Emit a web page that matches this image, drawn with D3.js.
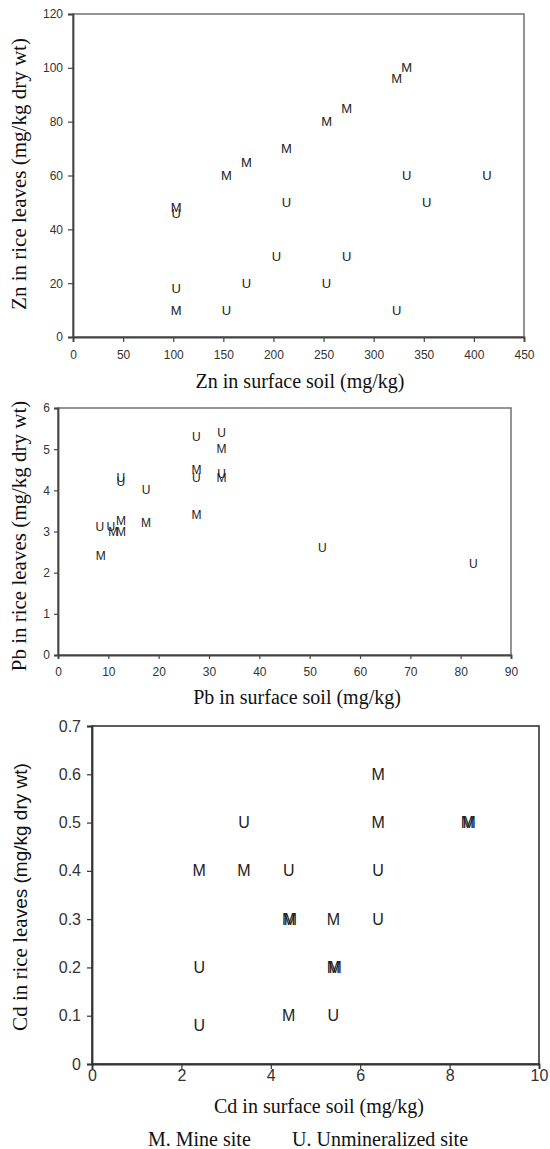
<!DOCTYPE html>
<html>
<head>
<meta charset="utf-8">
<script src="https://cdn.jsdelivr.net/npm/d3@7/dist/d3.min.js"></script>
<style>
  body { margin: 0; background: #fff; }
  .tick text { fill: #333; font-family: "Liberation Sans", Arial, sans-serif; }
  .mark { font-family: "Liberation Sans", Arial, sans-serif; fill: #222; }
  .title { font-family: "Liberation Serif", "Times New Roman", serif; fill: #111; }
</style>
</head>
<body>
<script>
// Zn panel: soil vs leaves
var znMineSoil = [103, 103, 153, 173, 213, 253, 273, 323, 333];
var znMineLeaf = [10, 48, 60, 65, 70, 80, 85, 96, 100];
var znUnminSoil = [103, 103, 153, 173, 203, 213, 253, 273, 323, 333, 353, 413];
var znUnminLeaf = [18, 46, 10, 20, 30, 50, 20, 30, 10, 60, 50, 60];
var znXTicks = [0, 50, 100, 150, 200, 250, 300, 350, 400, 450];
var znYTicks = [0, 20, 40, 60, 80, 100, 120];

// Pb panel
var pbMineSoil = [8.5, 11, 12.5, 12.5, 17.5, 27.5, 27.5, 32.5, 32.5];
var pbMineLeaf = [2.4, 3.0, 3.0, 3.25, 3.2, 3.4, 4.5, 4.3, 5.0];
var pbUnminSoil = [8.3, 10.5, 12.5, 12.5, 17.5, 27.5, 27.5, 32.5, 32.5, 52.5, 82.5];
var pbUnminLeaf = [3.1, 3.1, 4.3, 4.2, 4.0, 4.3, 5.3, 4.4, 5.4, 2.6, 2.2];
var pbXTicks = [0, 10, 20, 30, 40, 50, 60, 70, 80, 90];
var pbYTicks = [0, 1, 2, 3, 4, 5, 6];

// Cd panel
var cdMineSoil = [2.4, 3.4, 4.4, 4.4, 4.44, 5.4, 5.4, 5.44, 6.4, 6.4, 8.4, 8.44];
var cdMineLeaf = [0.4, 0.4, 0.1, 0.3, 0.3, 0.3, 0.2, 0.2, 0.5, 0.6, 0.5, 0.5];
var cdUnminSoil = [2.4, 2.4, 3.4, 4.4, 5.4, 6.4, 6.4];
var cdUnminLeaf = [0.08, 0.2, 0.5, 0.4, 0.1, 0.3, 0.4];
var cdXTicks = [0, 2, 4, 6, 8, 10];
var cdYTicks = [0, 0.1, 0.2, 0.3, 0.4, 0.5, 0.6, 0.7];

var markLabels = ["M", "U"];
var legendLabels = ["M. Mine site", "U. Unmineralized site"];

var svg = d3.select("body")
  .append("svg")
    .attr("width", 550)
    .attr("height", 1149);

var intFmt = d3.format("d");

function drawPanel(p) {
  var x = d3.scaleLinear()
      .domain(d3.extent(p.xTicks))
      .range([p.left, p.left + p.width]);
  var y = d3.scaleLinear()
      .domain(d3.extent(p.yTicks))
      .range([p.top + p.height, p.top]);

  var g = svg.append("g");

  // plot frame
  g.append("rect")
      .attr("x", p.left)
      .attr("y", p.top)
      .attr("width", p.width)
      .attr("height", p.height)
      .attr("fill", "none")
      .attr("stroke", p.frame)
      .attr("stroke-width", 1.6);

  var xAxis = g.append("g")
      .attr("transform", "translate(0," + (p.top + p.height) + ")")
      .call(d3.axisBottom(x).tickValues(p.xTicks).tickSizeOuter(0)
        .tickSize(p.tick).tickPadding(p.xPad).tickFormat(p.fmtX));
  var yAxis = g.append("g")
      .attr("transform", "translate(" + p.left + ",0)")
      .call(d3.axisLeft(y).tickValues(p.yTicks).tickSizeOuter(0)
        .tickSize(p.tick).tickPadding(p.yPad).tickFormat(p.fmtY));

  [xAxis, yAxis].forEach(function(a) {
    a.select(".domain").attr("stroke", p.axis).attr("stroke-width", 1.8);
    a.selectAll(".tick line").attr("stroke", p.axis).attr("stroke-width", 1.2);
    a.selectAll(".tick text").style("font-size", p.tickFont + "px");
  });

  // text markers, M = mine, U = unmineralized
  var pts = [];
  p.mineSoil.forEach(function(v, i) { pts.push({ s: v, l: p.mineLeaf[i], k: markLabels[0] }); });
  p.unminSoil.forEach(function(v, i) { pts.push({ s: v, l: p.unminLeaf[i], k: markLabels[1] }); });

  g.append("g")
    .selectAll("text")
    .data(pts)
    .enter()
    .append("text")
      .attr("class", "mark")
      .attr("x", function(d) { return x(d.s); })
      .attr("y", function(d) { return y(d.l); })
      .attr("text-anchor", "middle")
      .attr("dominant-baseline", "central")
      .style("font-size", p.markFont + "px")
      .text(function(d) { return d.k; });

  // axis titles
  g.append("text")
      .attr("class", "title")
      .attr("x", p.xTitleX)
      .attr("y", p.xTitleY)
      .attr("text-anchor", "middle")
      .style("font-size", "20px")
      .text(p.xTitle);

  var yt = g.append("text")
      .attr("class", "title")
      .attr("transform", "translate(" + p.yTitleX + "," + p.yTitleY + ") rotate(-90)")
      .attr("text-anchor", "middle")
      .style("font-size", "21px");
  p.yTitle.forEach(function(part) {
    yt.append("tspan")
      .style("font-family", part.sans ? "'Liberation Sans', Arial, sans-serif" : null)
      .style("font-size", part.sans ? "19px" : null)
      .text(part.t);
  });
}

drawPanel({
  left: 73, top: 14, width: 451, height: 323,
  xTicks: znXTicks, yTicks: znYTicks,
  mineSoil: znMineSoil, mineLeaf: znMineLeaf, unminSoil: znUnminSoil, unminLeaf: znUnminLeaf,
  tick: 5, xPad: 8, yPad: 5, tickFont: 12, markFont: 13,
  frame: "#7a7a7a", axis: "#444",
  fmtX: intFmt, fmtY: intFmt,
  xTitle: "Zn in surface soil (mg/kg)", xTitleX: 300, xTitleY: 388,
  yTitle: [{ t: "Zn in rice leaves (mg/kg dry wt)" }], yTitleX: 26, yTitleY: 174
});

drawPanel({
  left: 58, top: 408, width: 453, height: 247,
  xTicks: pbXTicks, yTicks: pbYTicks,
  mineSoil: pbMineSoil, mineLeaf: pbMineLeaf, unminSoil: pbUnminSoil, unminLeaf: pbUnminLeaf,
  tick: 4, xPad: 8, yPad: 4, tickFont: 12, markFont: 12,
  frame: "#7a7a7a", axis: "#444",
  fmtX: intFmt, fmtY: intFmt,
  xTitle: "Pb in surface soil (mg/kg)", xTitleX: 297, xTitleY: 704,
  yTitle: [{ t: "Pb in rice leaves (mg/kg dry wt)" }], yTitleX: 26, yTitleY: 536
});

drawPanel({
  left: 92, top: 726, width: 447, height: 338,
  xTicks: cdXTicks, yTicks: cdYTicks,
  mineSoil: cdMineSoil, mineLeaf: cdMineLeaf, unminSoil: cdUnminSoil, unminLeaf: cdUnminLeaf,
  tick: 5, xPad: 1, yPad: 6, tickFont: 16, markFont: 16,
  frame: "#333", axis: "#333",
  fmtX: intFmt, fmtY: function(d) { return d === 0 ? "0" : d3.format(".1f")(d); },
  xTitle: "Cd in surface soil (mg/kg)", xTitleX: 319, xTitleY: 1113,
  yTitle: [{ t: "Cd in rice lea" }, { t: "ves (mg/kg dry wt)", sans: true }], yTitleX: 27, yTitleY: 897
});

// legend under the last panel
var legendX = [148, 292];
svg.selectAll(".legend")
  .data(legendLabels)
  .enter()
  .append("text")
    .attr("class", "title legend")
    .attr("x", function(d, i) { return legendX[i]; })
    .attr("y", 1146)
    .style("font-size", "20px")
    .text(function(d) { return d; });
</script>
</body>
</html>
